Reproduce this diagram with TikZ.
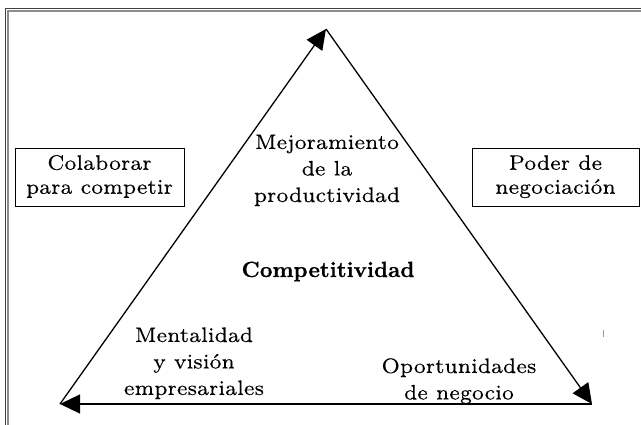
\documentclass[tikz,border=0pt]{standalone}
\usepackage{fontspec}
\setmainfont{lmroman7-regular.otf}[FakeBold=0.2]
\newfontfamily\boldlm{lmroman10-bold.otf}[FakeBold=0.5]
\usetikzlibrary{arrows.meta}
\newcommand{\mylines}[2][c]{\begin{tabular}[#1]{@{}c@{}}#2\end{tabular}}
\tikzset{
  edge/.style={line width=1.3pt, -{Triangle[length=20pt,width=19pt]}},
  lbl/.style={inner sep=0pt, anchor=base, font=\fontsize{21}{26.5}\selectfont},
  sidebox/.style={draw, line width=0.9pt, inner sep=0pt, minimum width=169pt, minimum height=58pt, font=\fontsize{21}{24}\selectfont},
}
\begin{document}
\begin{tikzpicture}[x=1pt,y=-1pt]
\useasboundingbox (0,0) rectangle (641,425);
% frame
\draw[line width=1.2pt, black!75] (5.6,430) -- (5.6,8.6) -- (650,8.6);
\draw[line width=1.6pt, black!45] (7.9,430) -- (7.9,11) -- (650,11);
% vertices
\coordinate (A) at (326,29);
\coordinate (L) at (60,404);
\coordinate (R) at (592,404);
\draw[edge] (L) -- (A);
\draw[edge] (A) -- (R);
\draw[edge] (R) -- (L);
% labels
\node[lbl] (mej) at (327,149) {\mylines[t]{Mejoramiento\\de la\\productividad}};
\node[lbl, font=\fontsize{22}{24}\boldlm] (comp) at (328,277) {Competitividad};
\node[lbl] (ment) at (194,342) {\mylines[t]{Mentalidad\\y visión\\empresariales}};
\node[lbl] (opor) at (459,373) {\mylines[t]{Oportunidades\\de negocio}};
\node[sidebox] (col) at (99.5,177) {\mylines{Colaborar\\para competir}};
\node[sidebox, minimum width=167pt] (pod) at (555.5,177) {\mylines{Poder de\\negociación}};
% stray mark
\draw[black!40, line width=0.6pt] (603,330) -- (603,337);
\end{tikzpicture}
\end{document}
